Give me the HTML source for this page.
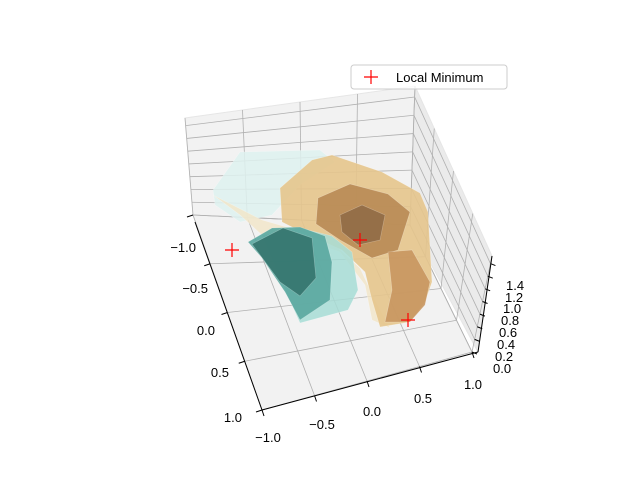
<!DOCTYPE html>
<html><head><meta charset="utf-8"><style>
body{margin:0;background:#fff}
svg text{font-family:"Liberation Sans",sans-serif;font-size:13px;fill:#000}
</style></head><body>
<svg width="640" height="480" viewBox="0 0 640 480">
<g>
<polygon points="185,118 415,86 410,225 193,215" fill="#f2f2f2" stroke="#e6e6e6"/>
<polygon points="415,86 492,256 478,352 410,225" fill="#ebebeb" stroke="#e6e6e6"/>
<polygon points="193,215 410,225 472,352 262,410" fill="#f2f2f2" stroke="#e6e6e6"/>
</g>
<g id="grid" stroke="#b0b0b0" stroke-width="0.8" fill="none"></g>
<g stroke="#ffffff" stroke-opacity="0.35" stroke-width="0.6">
<polygon points="213,190 240,152 320,150 335,162 300,185 272,215 240,222 215,205" fill="#dff2f0" opacity="0.85"/>
<polygon points="213,195 240,215 262,235 300,238 340,252 365,285 372,320 390,328 375,300 360,268 335,245 290,228 262,220" fill="#f3e6c8" opacity="0.8"/>
<polygon points="280,188 312,160 332,155 382,172 420,193 428,212 432,282 425,302 410,322 380,327 372,300 365,272 342,250 302,232 282,222" fill="#e6c68d" opacity="0.9"/>
<polygon points="318,198 350,184 388,194 410,212 398,250 372,258 340,240 316,224" fill="#b98a55" opacity="0.9"/>
<polygon points="340,215 362,205 385,215 380,240 358,245 342,232" fill="#8f6a45" opacity="0.85"/>
<polygon points="388,252 412,250 430,282 425,305 410,322 385,322 392,290" fill="#c89660" opacity="0.9"/>
<polygon points="262,235 300,228 332,236 352,252 358,290 348,310 300,323 286,292" fill="#a8ddd6" opacity="0.85"/>
<polygon points="248,242 272,228 300,227 325,236 332,262 330,300 300,320 285,292 262,258" fill="#5aa8a0" opacity="0.9"/>
<polygon points="252,244 283,228 312,238 316,278 300,296 280,282" fill="#2f6e67" opacity="0.8"/>
</g>
<g id="markers" stroke="#ff0000" stroke-width="1.2"></g>
<g id="axes" stroke="#000" stroke-width="1">
<line x1="195" y1="222" x2="262" y2="410"/>
<line x1="262" y1="410" x2="478" y2="352"/>
<line x1="492" y1="256" x2="478" y2="352"/>
</g>
<g text-anchor="end">
<text x="196" y="252">−1.0</text><text x="208" y="293">−0.5</text><text x="215" y="335">0.0</text><text x="229" y="377">0.5</text><text x="242" y="422">1.0</text>
</g>
<g text-anchor="middle">
<text x="268" y="442">−1.0</text><text x="322" y="429">−0.5</text><text x="372" y="416">0.0</text><text x="423" y="403">0.5</text><text x="473" y="389">1.0</text>
</g>
<g>
<text x="493" y="373">0.0</text><text x="495" y="361">0.2</text><text x="497" y="349">0.4</text><text x="499" y="337">0.6</text><text x="501" y="325">0.8</text><text x="503" y="313">1.0</text><text x="505" y="302">1.2</text><text x="506" y="290">1.4</text>
</g>
<g>
<rect x="351" y="65" width="156" height="24" rx="3" fill="#fff" fill-opacity="0.8" stroke="#ccc"/>
<path d="M364,77 h14 M371,70 v14" stroke="#ff0000" stroke-width="1.2"/>
<text x="396" y="82">Local Minimum</text>
</g>
</svg>
<script>
const minimaX=[232,360,408];
const minimaY=[250,240,320];
const NS='http://www.w3.org/2000/svg';
const m=document.getElementById('markers');
minimaX.forEach((x,i)=>{const p=document.createElementNS(NS,'path');
p.setAttribute('d',`M${x-7},${minimaY[i]} h14 M${x},${minimaY[i]-7} v14`);


m.appendChild(p);});
const g=document.getElementById('grid');
const ax=document.getElementById('axes');
function L(a,b,c,d,par,name){const l=document.createElementNS(NS,'line');l.setAttribute('x1',a);l.setAttribute('y1',b);l.setAttribute('x2',c);l.setAttribute('y2',d);


(par||g).appendChild(l);}
function lerp(p,q,t){return [p[0]+(q[0]-p[0])*t,p[1]+(q[1]-p[1])*t];}
const A=[193,215],D=[410,225],C=[472,352],B=[262,410],At=[185,118],Dt=[415,86],Ct=[492,256];
for(let i=0;i<5;i++){const t=i/4;
let p=lerp(A,D,t),q=lerp(B,C,t),r=lerp(At,Dt,t);L(p[0],p[1],q[0],q[1]);L(p[0],p[1],r[0],r[1]);
L(q[0],q[1],q[0]+2,q[1]+6,ax,'x-tick');
p=lerp(A,B,t);q=lerp(D,C,t);L(p[0],p[1],q[0],q[1]);
L(p[0],p[1],p[0]-6,p[1]+2,ax,'y-tick');
q=lerp(D,C,t);r=lerp(Dt,Ct,t);L(q[0],q[1],r[0],r[1]);}
for(let i=0;i<8;i++){const t=i/7.6;
let p=lerp(A,At,t),q=lerp(D,Dt,t),r=lerp(C,Ct,t);L(p[0],p[1],q[0],q[1]);L(q[0],q[1],r[0],r[1]);
L(r[0],r[1],r[0]+5,r[1]+2,ax,'z-tick');}
</script>
</body></html>
